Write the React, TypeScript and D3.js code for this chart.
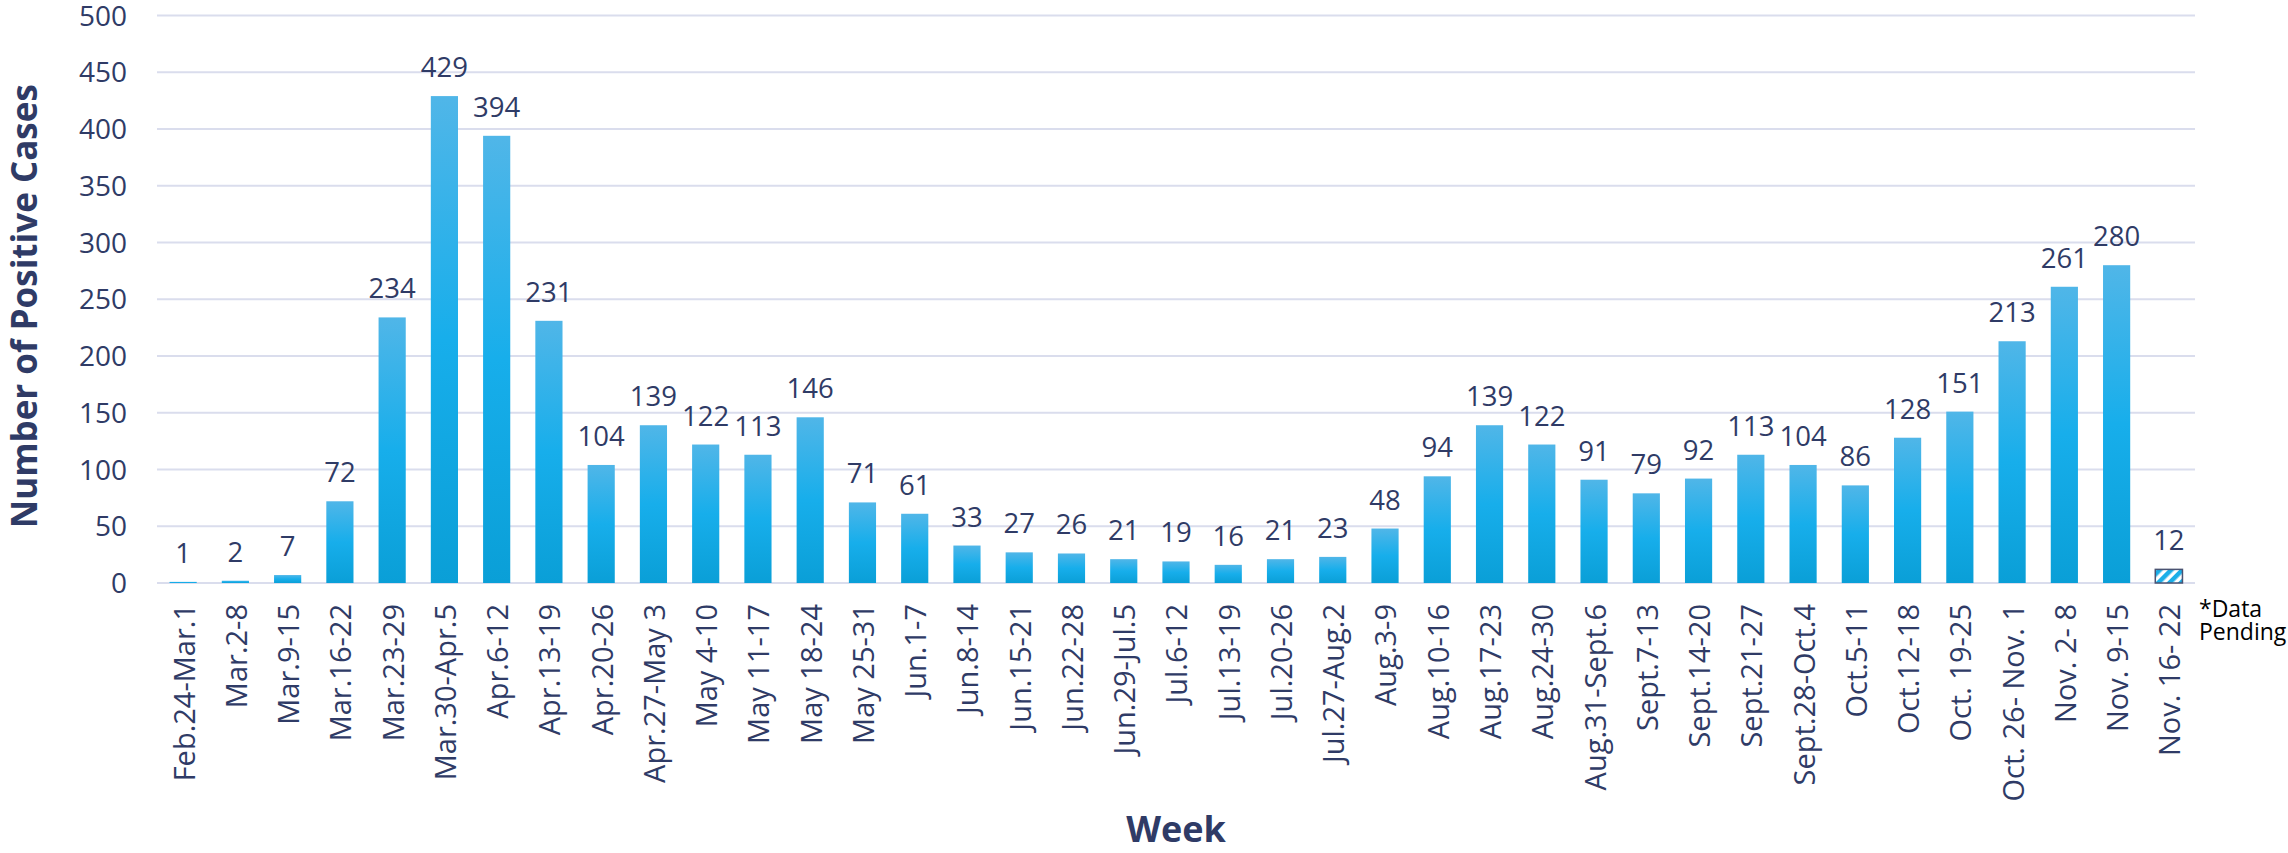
import { useEffect, useRef } from 'react';
import * as d3 from 'd3';

const weeks = [
  "Feb.24-Mar.1", "Mar.2-8", "Mar.9-15", "Mar.16-22", "Mar.23-29", "Mar.30-Apr.5",
  "Apr.6-12", "Apr.13-19", "Apr.20-26", "Apr.27-May 3", "May 4-10", "May 11-17",
  "May 18-24", "May 25-31", "Jun.1-7", "Jun.8-14", "Jun.15-21", "Jun.22-28",
  "Jun.29-Jul.5", "Jul.6-12", "Jul.13-19", "Jul.20-26", "Jul.27-Aug.2", "Aug.3-9",
  "Aug.10-16", "Aug.17-23", "Aug.24-30", "Aug.31-Sept.6", "Sept.7-13", "Sept.14-20",
  "Sept.21-27", "Sept.28-Oct.4", "Oct.5-11", "Oct.12-18", "Oct. 19-25",
  "Oct. 26- Nov. 1", "Nov. 2- 8", "Nov. 9-15", "Nov. 16- 22"
];
const cases = [
  1, 2, 7, 72, 234, 429, 394, 231, 104, 139, 122, 113, 146, 71, 61, 33, 27, 26,
  21, 19, 16, 21, 23, 48, 94, 139, 122, 91, 79, 92, 113, 104, 86, 128, 151, 213,
  261, 280, 12
];
// the last week is incomplete and is drawn hatched
const pendingWeeks = ["Nov. 16- 22"];
const yTicks = [0, 50, 100, 150, 200, 250, 300, 350, 400, 450, 500];

const W = 2288;
const H = 853;
const TEXT = "#2f3b66";
const FONT = "'Open Sans', sans-serif";

export default function App() {
  const svgRef = useRef<SVGSVGElement>(null);

  useEffect(() => {
    if (!svgRef.current) return;
    const svg = d3.select(svgRef.current);
    svg.selectAll("*").remove();

    const left = 157, right = 2195, top = 15.5, bottom = 583;

    const x = d3.scaleBand<string>()
      .domain(weeks)
      .range([left, right])
      .paddingInner(0.48)
      .paddingOuter(0.24);

    const y = d3.scaleLinear().domain([0, 500]).range([bottom, top]);

    const defs = svg.append("defs");
    const grad = defs.append("linearGradient")
      .attr("id", "barGrad")
      .attr("x1", 0).attr("y1", 0).attr("x2", 0).attr("y2", 1);
    grad.append("stop").attr("offset", "0%").attr("stop-color", "#50b6e8");
    grad.append("stop").attr("offset", "50%").attr("stop-color", "#17aeeb");
    grad.append("stop").attr("offset", "100%").attr("stop-color", "#0a9fd7");

    const hatch = defs.append("pattern")
      .attr("id", "hatch")
      .attr("patternUnits", "userSpaceOnUse")
      .attr("width", 8).attr("height", 8)
      .attr("patternTransform", "rotate(45)");
    hatch.append("rect").attr("width", 8).attr("height", 8).attr("fill", "#ffffff");
    hatch.append("rect").attr("width", 4.5).attr("height", 8).attr("fill", "#1aaee8");

    // gridlines
    svg.append("g")
      .selectAll("line")
      .data(yTicks)
      .join("line")
      .attr("x1", left).attr("x2", right)
      .attr("y1", d => y(d)).attr("y2", d => y(d))
      .attr("stroke", "#dadded")
      .attr("stroke-width", 2);

    // y tick labels
    svg.append("g")
      .selectAll("text")
      .data(yTicks)
      .join("text")
      .attr("x", 127)
      .attr("y", d => y(d))
      .attr("dy", "0.36em")
      .attr("text-anchor", "end")
      .attr("fill", TEXT)
      .attr("font-size", "28px")
      .attr("font-family", FONT)
      .text(d => d);

    const data = weeks.map((w, i) => ({ week: w, value: cases[i] }));

    // bars
    svg.append("g")
      .selectAll("rect")
      .data(data)
      .join("rect")
      .attr("x", d => x(d.week)!)
      .attr("width", x.bandwidth())
      .attr("y", d => y(d.value))
      .attr("height", d => y(0) - y(d.value))
      .attr("fill", d => pendingWeeks.includes(d.week) ? "url(#hatch)" : "url(#barGrad)")
      .attr("stroke", d => pendingWeeks.includes(d.week) ? "#4a5372" : "none")
      .attr("stroke-width", 1.5);

    // value labels
    svg.append("g")
      .selectAll("text")
      .data(data)
      .join("text")
      .attr("x", d => x(d.week)! + x.bandwidth() / 2)
      .attr("y", d => y(d.value) - 19)
      .attr("text-anchor", "middle")
      .attr("fill", TEXT)
      .attr("font-size", "27.5px")
      .attr("font-family", FONT)
      .text(d => d.value);

    // x tick labels, rotated
    svg.append("g")
      .selectAll("text")
      .data(weeks)
      .join("text")
      .attr("transform", d => `translate(${x(d)! + x.bandwidth() / 2 + 1},604) rotate(-90)`)
      .attr("dy", "0.36em")
      .attr("text-anchor", "end")
      .attr("fill", TEXT)
      .attr("font-size", "29px")
      .attr("font-family", FONT)
      .text(d => d);

    // axis titles
    svg.append("text")
      .attr("transform", `translate(24,${(top + bottom) / 2 + 7}) rotate(-90)`)
      .attr("dy", "0.36em")
      .attr("text-anchor", "middle")
      .attr("fill", TEXT)
      .attr("font-size", "35px")
      .attr("font-weight", "bold")
      .attr("font-family", FONT)
      .text("Number of Positive Cases");

    svg.append("text")
      .attr("x", (left + right) / 2)
      .attr("y", 842)
      .attr("text-anchor", "middle")
      .attr("fill", TEXT)
      .attr("font-size", "36px")
      .attr("font-weight", "bold")
      .attr("font-family", FONT)
      .text("Week");

    // pending note
    const note = svg.append("text")
      .attr("x", 2199)
      .attr("y", 617)
      .attr("fill", "#000000")
      .attr("font-size", "23px")
      .attr("font-family", FONT);
    note.append("tspan").attr("x", 2199).text("*Data");
    note.append("tspan").attr("x", 2199).attr("dy", 23).text("Pending");
  }, []);

  return (
    <svg
      ref={svgRef}
      width={W}
      height={H}
      style={{ position: "absolute", left: 0, top: 0, background: "#ffffff" }}
    />
  );
}
